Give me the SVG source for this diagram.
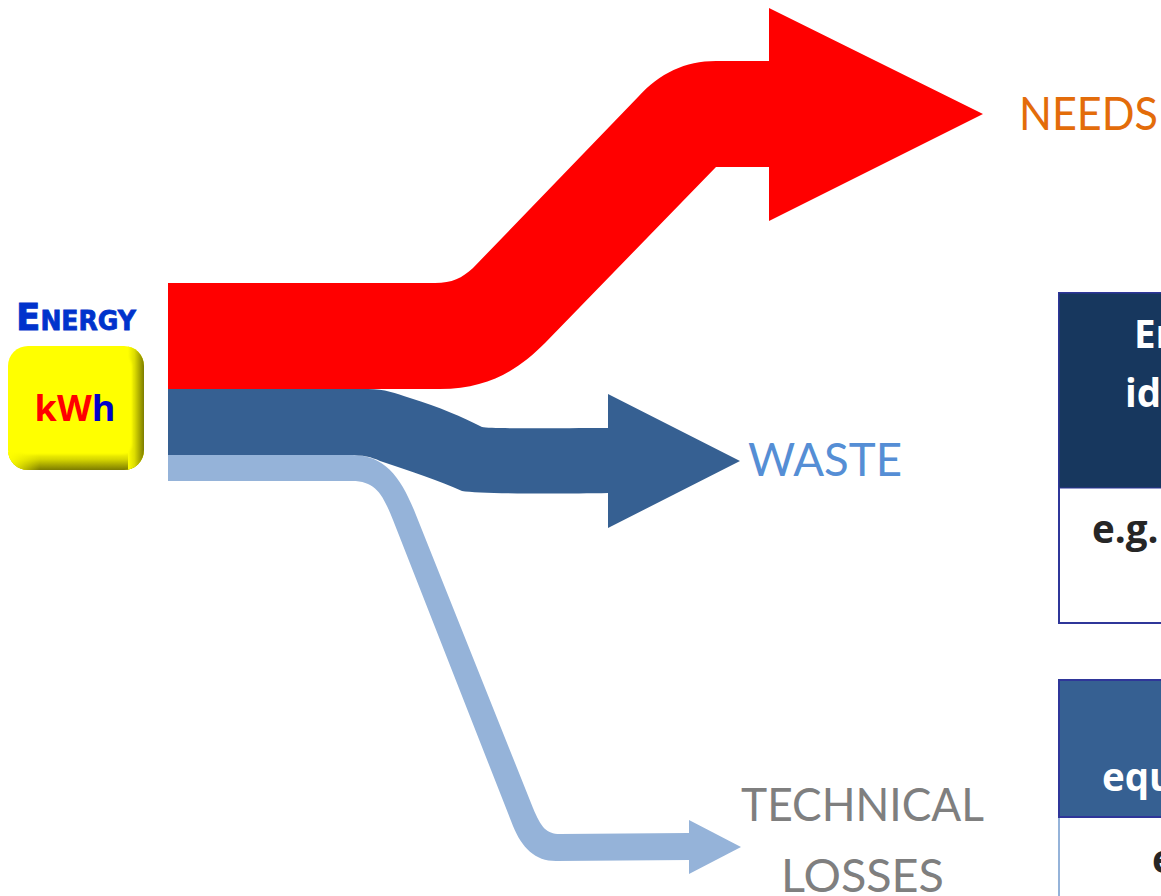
<svg xmlns="http://www.w3.org/2000/svg" width="1161" height="896" viewBox="0 0 1161 896">
<defs>
<linearGradient id="bevR" gradientUnits="userSpaceOnUse" x1="128" x2="144" y1="0" y2="0"><stop offset="0" stop-color="#ffff00"/><stop offset="0.4" stop-color="#dede00"/><stop offset="1" stop-color="#7c7c00"/></linearGradient>
<linearGradient id="bevB" gradientUnits="userSpaceOnUse" x1="0" x2="0" y1="452" y2="470"><stop offset="0" stop-color="#ffff00"/><stop offset="0.4" stop-color="#d8d800"/><stop offset="1" stop-color="#7c7c00"/></linearGradient>
<linearGradient id="fadeL" gradientUnits="userSpaceOnUse" x1="8" x2="40" y1="0" y2="0"><stop offset="0" stop-color="#ffff00"/><stop offset="1" stop-color="#ffff00" stop-opacity="0"/></linearGradient>
<clipPath id="key"><rect x="8" y="346" width="136" height="124" rx="20"/></clipPath>
<filter id="soft" x="-10%" y="-10%" width="120%" height="120%"><feGaussianBlur stdDeviation="1.2"/></filter>
</defs>
<style>
.lbl{font-family:"Lato","Liberation Sans",sans-serif;font-weight:400;font-size:47px}
.cal{font-family:"Open Sans","Liberation Sans",sans-serif;font-weight:700;font-size:38.5px}
</style>
<rect width="1161" height="896" fill="#ffffff"/>
<g id="connectors">
<path id="flow-losses" fill="#95b3d9" d="M168 455H352C384 455 400 476 414 510L533 808C541 827 546 834 560 834L689 833V820L741 847L689 874V860L556 861C535 861 522 848 513 826L393 520C383 495 376 481 352 481H168Z"/>
<path id="flow-waste" fill="#366092" d="M168 389H368C385 389 395 393 410 398C440 407 462 417 482 427C492 429 560 428 608 428V394L740 461L608 528V493C560 494 480 494 462 491C440 481 410 471 380 461C372 457 362 455 350 455H168Z"/>
<path id="flow-needs" fill="#ff0000" d="M168 283H435C452 283 462 278 473 268L638 97C660 73 685 61 716 61H769V8L983 114L769 221V167H716L545 343C520 368 490 389 440 389H168Z"/>
</g>
<g id="energy">
<text x="76" y="330" text-anchor="middle" fill="#0033cc" stroke="#0033cc" stroke-width="0.8" font-family="'DejaVu Sans',sans-serif" font-weight="700" font-size="37" textLength="120" lengthAdjust="spacingAndGlyphs" style="font-variant:small-caps">Energy</text>
<g clip-path="url(#key)">
<rect x="8" y="346" width="136" height="124" fill="#ffff00"/>
<rect x="8" y="452" width="136" height="18" fill="url(#bevB)"/>
<rect x="128" y="346" width="16" height="124" fill="url(#bevR)"/>
<rect x="8" y="452" width="32" height="18" fill="url(#fadeL)"/>
</g>
<rect x="17" y="356" width="115" height="98" rx="10" fill="#ffff00" filter="url(#soft)"/>
<text x="75" y="421" text-anchor="middle" font-family="'Open Sans','Liberation Sans',sans-serif" font-weight="700" font-size="36"><tspan fill="#ff0000">kW</tspan><tspan fill="#0000cc">h</tspan></text>
</g>
<g id="needs"><text class="lbl" x="1019" y="130" fill="#e36c0a" textLength="139" lengthAdjust="spacingAndGlyphs">NEEDS</text></g>
<g id="waste"><text class="lbl" x="748" y="476" fill="#558ed5" textLength="154" lengthAdjust="spacingAndGlyphs">WASTE</text></g>
<g id="technical-losses">
<text class="lbl" x="741" y="821" fill="#7f7f7f" textLength="243" lengthAdjust="spacingAndGlyphs">TECHNICAL</text>
<text class="lbl" x="781" y="892" fill="#7f7f7f" textLength="163" lengthAdjust="spacingAndGlyphs">LOSSES</text>
</g>
<g id="table-1">
<rect x="1059" y="293" width="110" height="330" fill="#ffffff" stroke="#2f3699" stroke-width="2"/>
<rect x="1059" y="293" width="110" height="195" fill="#17375e" stroke="#2f3699" stroke-width="1"/>
<text class="cal" x="1134" y="348" fill="#ffffff">En</text>
<text class="cal" x="1125" y="407" fill="#ffffff">id</text>
<text class="cal" x="1092" y="543" fill="#262626">e.g.</text>
</g>
<g id="table-2">
<rect x="1059" y="680" width="110" height="230" fill="#ffffff" stroke="#95b3d9" stroke-width="2"/>
<rect x="1059" y="680" width="110" height="137" fill="#366092" stroke="#2f3699" stroke-width="2"/>
<text class="cal" x="1102" y="791" fill="#ffffff">equ</text>
<text class="cal" x="1152" y="873" fill="#262626">e</text>
</g>
</svg>
